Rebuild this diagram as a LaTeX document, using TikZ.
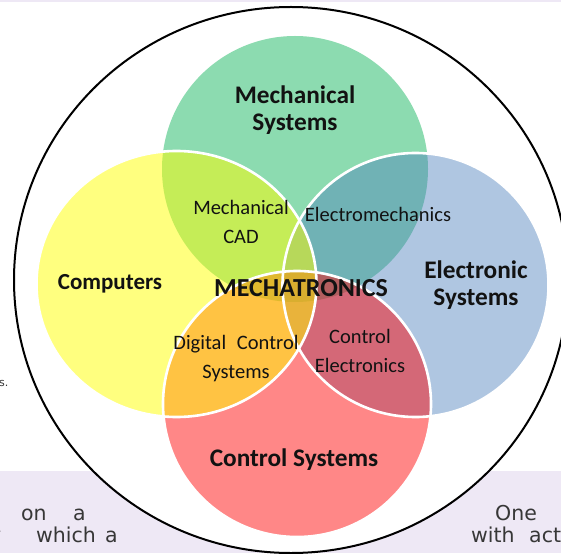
\documentclass[tikz,border=0pt]{standalone}
\usepackage{fontspec}
\setmainfont{Carlito}
\newfontfamily\bgfont{DejaVu Sans}
\definecolor{bandc}{RGB}{238,232,245}
\definecolor{gG}{RGB}{0,176,80}
\definecolor{gB}{RGB}{79,129,189}
\definecolor{gR}{RGB}{255,0,0}
\definecolor{gY}{RGB}{255,255,0}
\definecolor{txt}{RGB}{18,18,18}
\definecolor{bgc}{RGB}{55,55,55}
\def\circG{(295,169) ellipse [x radius=133, y radius=133]}
\def\circY{(176.5,284) ellipse [x radius=140, y radius=133]}
\def\circB{(415.5,285) ellipse [x radius=133, y radius=132]}
\def\circR{(297,404) ellipse [x radius=134, y radius=133]}
\begin{document}
\begin{tikzpicture}[x=1pt,y=-1pt,
  title/.style={font=\fontsize{25.3}{27}\selectfont\bfseries, text=txt, align=center, inner sep=0},
  sublabel/.style={font=\fontsize{20.5}{29}\selectfont, text=txt, align=center, inner sep=0},
  bgtext/.style={font=\bgfont\fontsize{20.5}{24}\selectfont, text=bgc, anchor=base west, inner sep=0},
  ring/.style={draw=white, line width=2.6pt}]
\useasboundingbox (0,0) rectangle (561,553);
% background bands
\fill[bandc] (0,0) rectangle (561,2.5);
\fill[bandc] (0,471) rectangle (561,553);
% surrounding page text
\node[bgtext] (t0) at (-11,542) {y};
\node[bgtext] (t1) at (21,520) {on};
\node[bgtext] (t2) at (73,520) {a};
\node[bgtext] (t3) at (36,542) {which};
\node[bgtext] (t4) at (105,542) {a};
\node[bgtext] (t5) at (495,520) {One};
\node[bgtext] (t6) at (471,542) {with};
\node[bgtext] (t7) at (529,542) {acti};
\node[bgtext, font=\bgfont\fontsize{11}{13}\selectfont] (t8) at (-1,386) {s.};
% outer circle
\draw[black, line width=2pt, fill=white] (291,280) ellipse [x radius=277, y radius=273];
% coloured discs
\fill[gG, fill opacity=0.45] \circG;
\fill[gB, fill opacity=0.45] \circB;
\fill[gR, fill opacity=0.47] \circR;
\fill[gY, fill opacity=0.5] \circY;
% white rims
\draw[ring] \circY;
\draw[ring] \circB;
\draw[ring] \circR;
% labels
\node[title] (mech) at (295,110) {Mechanical\\Systems};
\node[title, font=\fontsize{23}{26}\selectfont\bfseries] (comp) at (110,284) {Computers};
\node[title] (elec) at (476,285) {Electronic\\Systems};
\node[title] (ctrl) at (294,460) {Control Systems};
\node[title, font=\fontsize{26}{28}\selectfont\bfseries] (mt) at (301,288) {MECHATRONICS};
\node[sublabel] (cad) at (241,222) {Mechanical\\CAD};
\node[sublabel] (em) at (378,214) {Electromechanics};
\node[sublabel] (dcs) at (236,359) {Digital\hspace{0.3em} Control\\Systems};
\node[sublabel] (ce) at (360,351) {Control\\Electronics};
\end{tikzpicture}
\end{document}
